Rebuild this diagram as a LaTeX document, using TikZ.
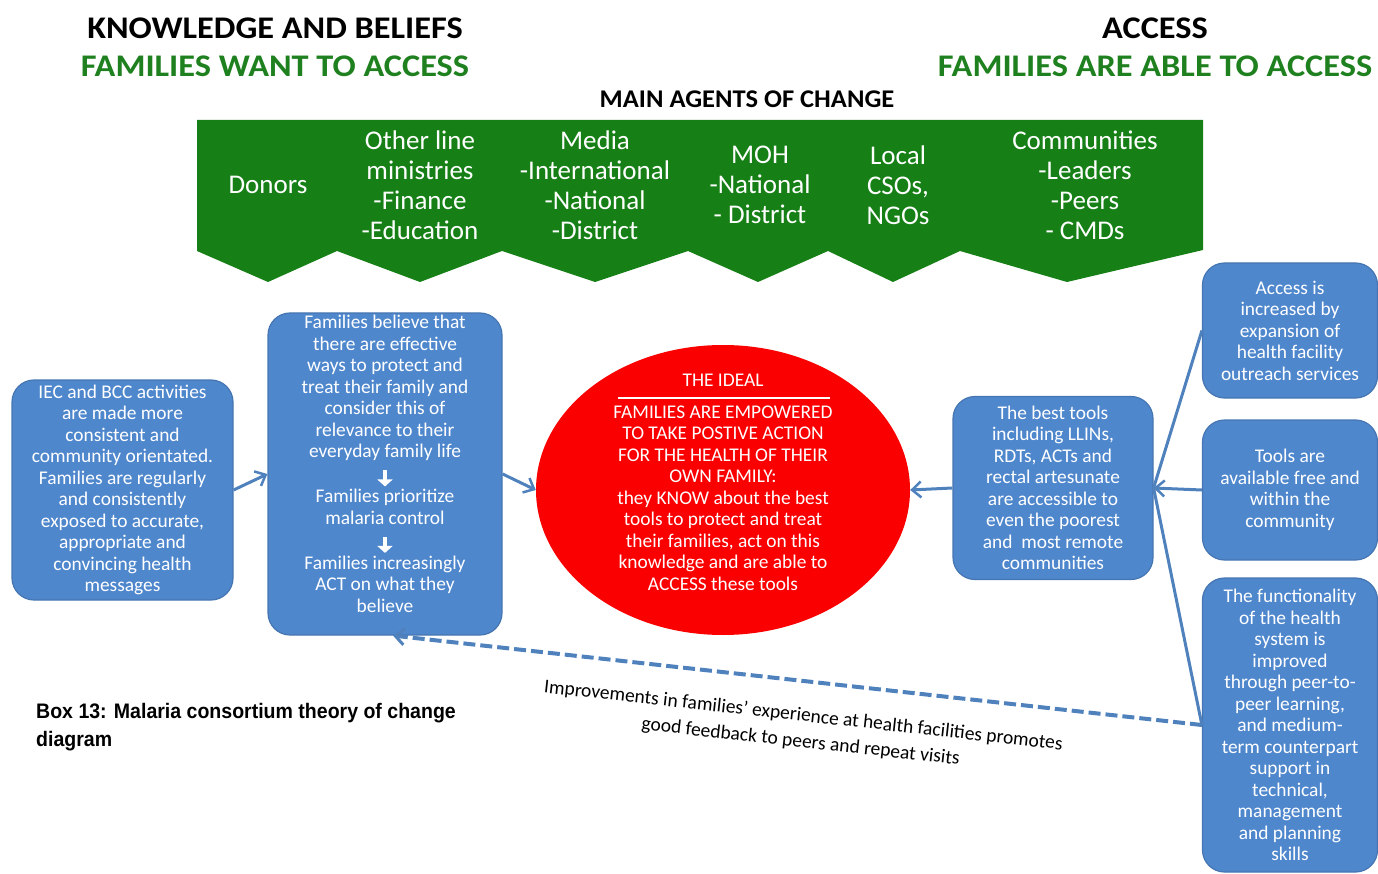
\documentclass[tikz,border=0pt]{standalone}
\usepackage{fontspec}
\setmainfont{Carlito}
\newfontfamily\capfont[FakeStretch=0.93]{Liberation Sans}
\usetikzlibrary{shapes.geometric,arrows.meta,calc}
\definecolor{bandgreen}{RGB}{22,128,22}
\definecolor{hgreen}{RGB}{30,128,30}
\definecolor{boxblue}{RGB}{79,135,205}
\definecolor{boxedge}{RGB}{70,118,178}
\definecolor{lineblue}{RGB}{79,129,189}
\definecolor{idealred}{RGB}{250,0,0}
\newcommand{\dnarrow}{\tikz[baseline=-1pt]\draw[white, line width=4pt, -{Triangle[length=7pt,width=15pt]}] (0pt,8pt) -- (0pt,-8pt);}
\begin{document}
\begin{tikzpicture}[x=1pt,y=-1pt,
  box/.style={draw=boxedge, line width=1.2pt, fill=boxblue, rounded corners=22pt,
    text=white, align=center, inner sep=0pt,
    font=\fontsize{19.4}{21.5}\selectfont},
  boxtext/.style={text=white, align=center, inner sep=0pt,
    font=\fontsize{19.4}{21.5}\selectfont},
  agent/.style={text=white, align=center, inner sep=0pt,
    font=\fontsize{27}{30}\selectfont},
  head/.style={inner sep=0pt, xscale=1.09, font=\bfseries\fontsize{31.5}{36}\selectfont},
  conn/.style={draw=lineblue, line width=3pt, -{Straight Barb[length=9pt,width=16pt,line width=2.5pt]}},
  plainconn/.style={draw=lineblue, line width=3pt},
  dashconn/.style={draw=lineblue, line width=4pt, dash pattern=on 12pt off 5pt,
    -{Straight Barb[length=9pt,width=16pt,line width=3pt]}}
]
\useasboundingbox (0,0) rectangle (1378,874);

% headings
\node[head] (kb) at (275,28) {KNOWLEDGE AND BELIEFS};
\node[head, text=hgreen] (fw) at (275,66) {FAMILIES WANT TO ACCESS};
\node[head] (ac) at (1155,28) {ACCESS};
\node[head, text=hgreen] (fa) at (1155,66) {FAMILIES ARE ABLE TO ACCESS};
\node[inner sep=0pt, xscale=1.04, font=\bfseries\fontsize{25.5}{28}\selectfont] (mac) at (747,99) {MAIN AGENTS OF CHANGE};

% green band of agents
\fill[bandgreen] (197,120) -- (1203,120) -- (1203,250) -- (1067,282) -- (960,251)
  -- (893,282) -- (828,251) -- (758,282) -- (688,251) -- (595,282) -- (502,251)
  -- (420,282) -- (337,251) -- (268,282) -- (197,251) -- cycle;
\node[agent] (d1) at (268,185) {Donors};
\node[agent] (d2) at (420,185) {Other line\\ministries\\-Finance\\-Education};
\node[agent] (d3) at (595,185) {Media\\-International\\-National\\-District};
\node[agent] (d4) at (760,185) {MOH\\-National\\- District};
\node[agent] (d5) at (898,185) {Local\\CSOs,\\NGOs};
\node[agent] (d6) at (1085,185) {Communities\\-Leaders\\-Peers\\- CMDs};

% left boxes
\node[box, minimum width=221pt, minimum height=220pt] (iec) at (122.5,490)
  {IEC and BCC activities\\are made more\\consistent and\\community orientated.\\Families are regularly\\and consistently\\exposed to accurate,\\appropriate and\\convincing health\\messages};
\node[box, minimum width=234pt, minimum height=322pt] (fam) at (385,474) {};
\node[boxtext] (famt) at (385,464)
  {Families believe that\\there are effective\\ways to protect and\\treat their family and\\consider this of\\relevance to their\\everyday family life\\\dnarrow\\Families prioritize\\malaria control\\\dnarrow\\Families increasingly\\ACT on what they\\believe};

% the ideal
\node[ellipse, fill=idealred, draw=none, minimum width=374pt, minimum height=290pt] (ideal) at (723,490) {};
\node[boxtext] (it) at (723,380) {THE IDEAL};
\draw[white, line width=1.5pt] ($(ideal.center)+(-105,-92)$) -- ($(ideal.center)+(107,-92)$);
\node[boxtext] (ib) at (723,498)
  {FAMILIES ARE EMPOWERED\\TO TAKE POSTIVE ACTION\\FOR THE HEALTH OF THEIR\\OWN FAMILY:\\they KNOW about the best\\tools to protect and treat\\their families, act on this\\knowledge and are able to\\ACCESS these tools};

% right boxes
\node[box, minimum width=200pt, minimum height=183pt] (tools) at (1053,488)
  {The best tools\\including LLINs,\\RDTs, ACTs and\\rectal artesunate\\are accessible to\\even the poorest\\and\ \ most remote\\communities};
\node[box, minimum width=175pt, minimum height=135pt] (acc) at (1290,330.5)
  {Access is\\increased by\\expansion of\\health facility\\outreach services};
\node[box, minimum width=175pt, minimum height=140pt] (free) at (1290,490)
  {Tools are\\available free and\\within the\\community};
\node[box, minimum width=175pt, minimum height=294pt] (func) at (1290,725)
  {The functionality\\of the health\\system is\\improved\\through peer-to-\\peer learning,\\and medium-\\term counterpart\\support in\\technical,\\management\\and planning\\skills};

% connectors
\draw[conn] (iec.east) -- (fam.west);
\draw[conn] (fam.east) -- (ideal.west);
\draw[conn] (tools.west) -- (ideal.east);
\draw[plainconn] (acc.west) -- (tools.east);
\draw[plainconn] (func.west) -- (tools.east);
\draw[conn] (free.west) -- (tools.east);
\draw[dashconn] (func.west) -- ($(fam.south)+(8,0)$);

\node[rotate=-6.3, align=center, inner sep=0pt, font=\fontsize{19.5}{26}\selectfont] (fb) at (802,729)
  {Improvements in families’ experience at health facilities promotes\\good feedback to peers and repeat visits};

% caption
\node[anchor=north west, align=left, inner sep=0pt, font=\capfont\bfseries\fontsize{21}{28}\selectfont] (cap) at (36,703)
  {Box 13: Malaria consortium theory of change\\diagram};
\end{tikzpicture}
\end{document}
